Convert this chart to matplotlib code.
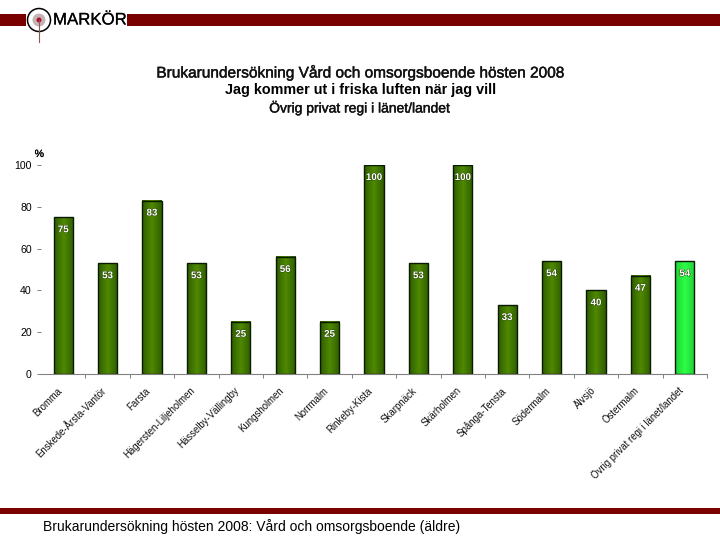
import numpy as np
import matplotlib as mpl
mpl.use('Agg')
import matplotlib.pyplot as plt
import matplotlib.patheffects as pe
from matplotlib.colors import LinearSegmentedColormap
from matplotlib.patches import Circle, Rectangle

mpl.rcParams['font.family'] = ['Liberation Sans', 'DejaVu Sans']

units = ['Bromma', 'Enskede-Årsta-Vantör', 'Farsta', 'Hägersten-Liljeholmen',
         'Hässelby-Vällingby', 'Kungsholmen', 'Norrmalm', 'Rinkeby-Kista',
         'Skarpnäck', 'Skärholmen', 'Spånga-Tensta', 'Södermalm', 'Älvsjö',
         'Östermalm', 'Övrig privat regi i länet/landet']
values = [75, 53, 83, 53, 25, 56, 25, 100, 53, 100, 33, 54, 40, 47, 54]
yticks = [0, 20, 40, 60, 80, 100]

W, H = 720, 540
dark_red = '#7a0000'
green_map = LinearSegmentedColormap.from_list('g', ['#2f5c00', '#4f8a00', '#2f5c00'])
light_map = LinearSegmentedColormap.from_list('l', ['#1fd03a', '#2dff45', '#1fd03a'])
grad = np.linspace(0, 1, 64).reshape(1, -1)
semi = [pe.withStroke(linewidth=0.3, foreground='#111111')]
thin = [pe.withStroke(linewidth=0.15, foreground='#111111')]

fig = plt.figure(figsize=(7.2, 5.4), dpi=100)

# page decoration, in pixel coordinates
bg = fig.add_axes([0, 0, 1, 1])
bg.set_xlim(0, W)
bg.set_ylim(H, 0)
bg.axis('off')
bg.add_patch(Rectangle((0, 14), 26, 12, color=dark_red, lw=0))
bg.add_patch(Rectangle((127, 14), W - 127, 12, color=dark_red, lw=0))
bg.add_patch(Rectangle((0, 508), W, 6, color=dark_red, lw=0))
bg.plot([39, 39], [20, 42], color='#8a5a5a', lw=0.8)
bg.add_patch(Circle((39, 20), 11.5, fc='none', ec='black', lw=1.1))
bg.add_patch(Circle((39, 20), 6.5, fc='#c4b4b4', ec='none'))
bg.add_patch(Circle((39, 20), 2.5, fc='#b01030', ec='none'))
bg.text(53, 20, 'MARKÖR', fontsize=12.1, va='center', ha='left', path_effects=thin)
bg.text(43, 526.5, 'Brukarundersökning hösten 2008: Vård och omsorgsboende (äldre)',
        fontsize=10.0, va='center', ha='left')
bg.text(360, 73, 'Brukarundersökning Vård och omsorgsboende hösten 2008', fontsize=11.1,
        va='center', ha='center', color='#111111', path_effects=semi)
bg.text(361, 90, 'Jag kommer ut i friska luften när jag vill', fontsize=10.4,
        va='center', ha='center', fontweight='bold')
bg.text(360, 108, 'Övrig privat regi i länet/landet', fontsize=10,
        va='center', ha='center', color='#111111', path_effects=semi)

# chart area
ax = fig.add_axes([41 / W, 1 - 374 / H, (707 - 41) / W, 209 / H])
ax.patch.set_alpha(0)
x = np.arange(len(units))
bars = ax.bar(x, values, width=0.43, fc='none', ec='#0a1a00', lw=1.0, zorder=3)
for i, b in enumerate(bars):
    cmap = light_map if i == len(units) - 1 else green_map
    ax.imshow(grad, cmap=cmap, aspect='auto', zorder=2, vmin=0, vmax=1,
              extent=(b.get_x(), b.get_x() + b.get_width(), 0, b.get_height()))
    ax.annotate(str(values[i]), (x[i], values[i]), xytext=(0, -12),
                textcoords='offset pixels', ha='center', va='center',
                fontsize=7, fontweight='bold', color='white', zorder=4,
                path_effects=[pe.withStroke(linewidth=0.6, foreground='#1c3a00')])

ax.set_xlim(-0.5, len(units) - 0.5)
ax.set_ylim(0, 100)
ax.set_yticks(yticks)
ax.set_xticks(x + 0.5, minor=False)
ax.set_xticklabels([])
ax.tick_params(axis='x', length=3, width=0.7, color='#808080', direction='out')
ax.tick_params(axis='y', length=3, width=0.7, color='#808080', labelsize=7.6, pad=3.6)
for s in ['top', 'right', 'left']:
    ax.spines[s].set_visible(False)
ax.spines['bottom'].set_color('#808080')
ax.spines['bottom'].set_linewidth(0.8)
ax.annotate('%', (0, 1), xycoords='axes fraction', xytext=(3, 6), textcoords='offset pixels',
            fontsize=7.6, ha='right', va='bottom', path_effects=thin)
for i, name in enumerate(units):
    ax.annotate(name, (x[i], 0), xytext=(-3, -15), textcoords='offset pixels',
                rotation=45, rotation_mode='anchor', ha='right', va='center',
                fontsize=6.9, color='#111111')

fig.savefig('out.png', dpi=100)
